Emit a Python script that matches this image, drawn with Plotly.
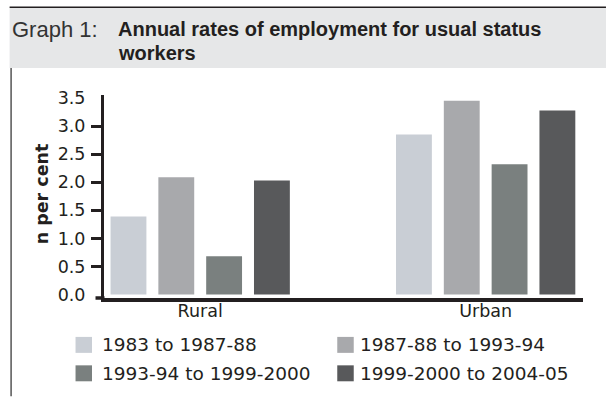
import plotly.graph_objects as go

categories = ["Rural", "Urban"]
series_names = ["1983 to 1987-88", "1987-88 to 1993-94",
                "1993-94 to 1999-2000", "1999-2000 to 2004-05"]
series_values = [
    [1.39, 2.85],
    [2.09, 3.45],
    [0.68, 2.32],
    [2.03, 3.28],
]
colors = ["#c9ced5", "#a8a9ac", "#7a807f", "#58595b"]
tick_vals = [0, 0.5, 1.0, 1.5, 2.0, 2.5, 3.0, 3.5]
tick_text = ["0.0", "0.5", "1.0", "1.5", "2.0", "2.5", "3.0", "3.5"]

W, H = 606, 397
L, R, T, B = 103.5, 583, 95, 298.5
PW, PH = R - L, B - T


def px(x):
    return (x - L) / PW


def py(y):
    return (B - y) / PH


FONT = "DejaVu Sans"
DARK = "#231f20"

fig = go.Figure()
for name, vals, c in zip(series_names, series_values, colors):
    fig.add_trace(go.Bar(x=categories, y=vals, name=name, marker=dict(color=c, line=dict(width=0)),
                         showlegend=False))

fig.update_layout(
    width=W, height=H,
    margin=dict(l=L, r=W - R, t=T, b=H - B, pad=0),
    paper_bgcolor="white", plot_bgcolor="white",
    barmode="group", bargap=0.33, bargroupgap=0.25,
    font=dict(family=FONT, color=DARK, size=16),
)
fig.update_xaxes(
    range=[-0.337, 1.341], showgrid=False, zeroline=False,
    showline=True, linecolor=DARK, linewidth=3.5, ticks="",
    ticklabelstandoff=-6,
    tickfont=dict(family=FONT, size=17.5, color=DARK),
)
fig.update_yaxes(
    range=[-0.062, 3.554], showgrid=False, zeroline=False,
    showline=True, linecolor=DARK, linewidth=3,
    tickmode="array", tickvals=tick_vals, ticktext=tick_text, ticks="",
    ticklabelstandoff=12,
    tickfont=dict(family=FONT, size=17.5, color=DARK),
    minor=dict(tickmode="array", tickvals=tick_vals[1:-1], ticks="outside",
               ticklen=10, tickwidth=2.5, tickcolor=DARK),
)

shapes = []
# title band
shapes.append(dict(type="rect", xref="paper", yref="paper", x0=px(9), x1=px(606), y0=py(68), y1=py(7.5),
                   fillcolor="#e6e7e8", line=dict(width=0), layer="below"))
shapes.append(dict(type="line", xref="paper", yref="paper", x0=px(9), x1=px(606), y0=py(7), y1=py(7),
                   line=dict(color=DARK, width=1.5)))
shapes.append(dict(type="line", xref="paper", yref="paper", x0=px(10.5), x1=px(10.5), y0=py(68), y1=py(397),
                   line=dict(color="#555555", width=1.5)))
# x axis extension to the left of the y axis
shapes.append(dict(type="line", xref="paper", yref="paper", x0=px(95), x1=px(104), y0=py(298.5), y1=py(298.5),
                   line=dict(color=DARK, width=3.5)))

annotations = []
annotations.append(dict(text="Graph 1:", xref="paper", yref="paper", x=px(9), y=py(29), xanchor="left",
                        yanchor="middle", showarrow=False,
                        font=dict(family="Liberation Sans", size=22, color="#333333")))
annotations.append(dict(text="<b>Annual rates of employment for usual status</b>", xref="paper", yref="paper",
                        x=px(116), y=py(29), xanchor="left", yanchor="middle", showarrow=False,
                        font=dict(family="Liberation Sans", size=20, color=DARK)))
annotations.append(dict(text="<b>workers</b>", xref="paper", yref="paper",
                        x=px(116), y=py(52.5), xanchor="left", yanchor="middle", showarrow=False,
                        font=dict(family="Liberation Sans", size=20, color=DARK)))
annotations.append(dict(text="<b>n per cent</b>", xref="paper", yref="paper", x=px(41), y=py(194),
                        xanchor="center", yanchor="middle", textangle=-90, showarrow=False,
                        font=dict(family=FONT, size=17.5, color=DARK)))

# legend (2 x 2)
leg_pos = [(75, 99, 345.5), (337, 358, 345.5), (75, 99, 374), (337, 358, 374)]
for name, c, (sx, tx, cy) in zip(series_names, colors, leg_pos):
    shapes.append(dict(type="rect", xref="paper", yref="paper", x0=px(sx), x1=px(sx + 16.5),
                       y0=py(cy + 8), y1=py(cy - 8), fillcolor=c, line=dict(width=0)))
    annotations.append(dict(text=name, xref="paper", yref="paper", x=px(tx), y=py(cy), xanchor="left",
                            yanchor="middle", showarrow=False,
                            font=dict(family=FONT, size=18.5, color=DARK)))

fig.update_layout(shapes=shapes, annotations=annotations)
fig.write_html("out.html")
